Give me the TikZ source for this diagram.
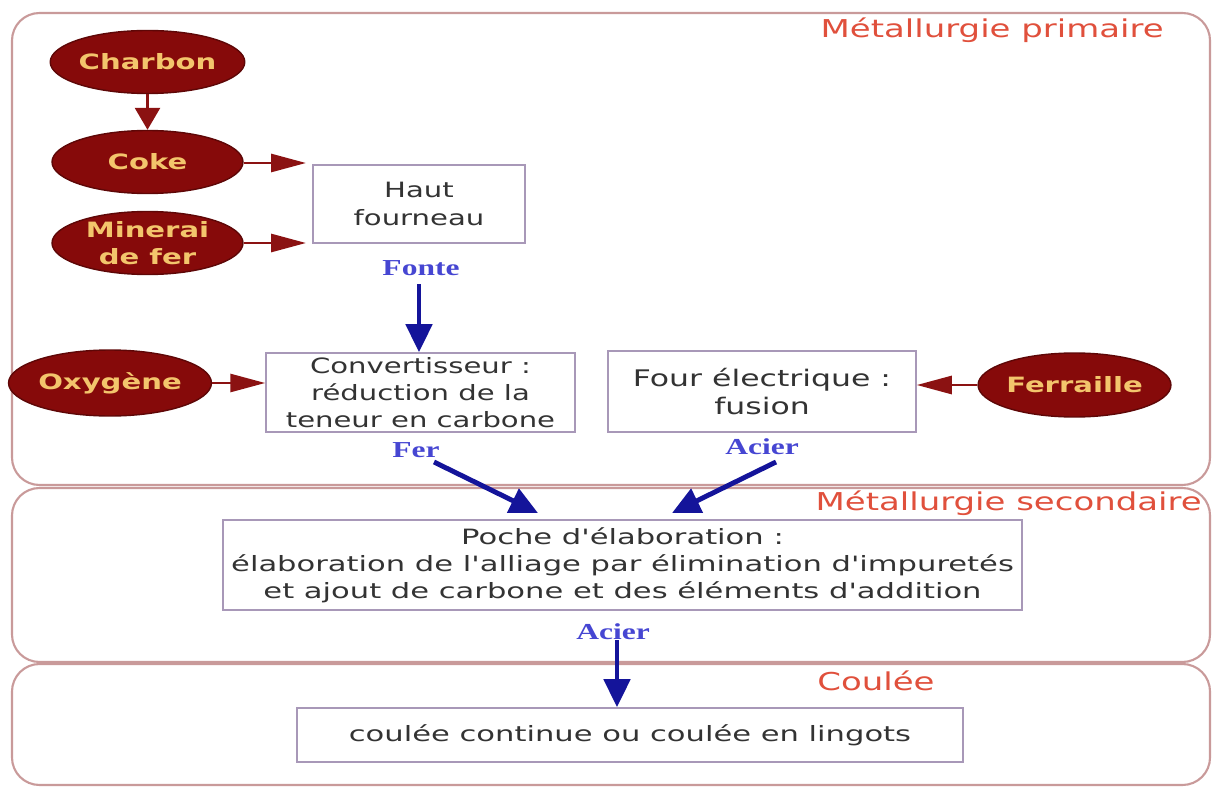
\documentclass[tikz,border=0pt]{standalone}
\usepackage{fontspec}
\setmainfont{DejaVu Sans}
\newfontfamily\boxfont[FakeStretch=1.38]{DejaVu Sans}
\newfontfamily\lowfont[FakeStretch=1.45]{DejaVu Sans}
\newfontfamily\elfont[FakeStretch=1.38]{DejaVu Sans Bold}
\newfontfamily\lblfont[FakeStretch=1.38]{Liberation Serif Bold}
\newfontfamily\ttlfont[FakeStretch=1.38]{DejaVu Sans}
\usetikzlibrary{shapes.geometric,arrows.meta}
\definecolor{panelc}{HTML}{C99A9A}
\definecolor{ellfill}{HTML}{860A0A}
\definecolor{elltext}{HTML}{F3C56C}
\definecolor{redarr}{HTML}{8B1212}
\definecolor{bluearr}{HTML}{14149A}
\definecolor{lblblue}{HTML}{4646D2}
\definecolor{ttlred}{HTML}{E0503C}
\definecolor{boxc}{HTML}{A898B8}
\begin{document}
\begin{tikzpicture}[x=0.02cm,y=-0.02cm,
  panel/.style={draw=panelc,line width=1.2pt,rounded corners=0.55cm},
  ttl/.style={text=ttlred,font=\ttlfont\fontsize{14}{16}\selectfont,inner sep=0},
  ell/.style={ellipse,draw=ellfill!70!black,line width=0.8pt,fill=ellfill,text=elltext,
    font=\elfont\fontsize{12}{15.5}\selectfont,align=center,inner sep=0,
    minimum width=3.82cm,minimum height=1.26cm},
  bx/.style={draw=boxc,line width=0.9pt,fill=white,align=center,inner sep=0,
    font=\boxfont\fontsize{12}{15.5}\selectfont,text=black!80},
  lbl/.style={text=lblblue,font=\lblfont\fontsize{13}{15}\selectfont,inner sep=0},
  rarrh/.style={draw=redarr,line width=1.6pt,-{Triangle[length=0.7cm,width=0.36cm]}},
  rarrv/.style={draw=redarr,line width=1.6pt,-{Triangle[length=0.44cm,width=0.5cm]}},
  barr/.style={draw=bluearr,line width=2.8pt,-{Triangle[length=0.56cm,width=0.52cm]}}]
\useasboundingbox (0,0) rectangle (1216,787);
% panels
\draw[panel] (12,13) rectangle (1210,485);
\draw[panel] (12,488) rectangle (1210,662);
\draw[panel] (12,664) rectangle (1210,785);
\node[ttl,anchor=east] (t1) at (1164,30) {Métallurgie primaire};
\node[ttl,anchor=east] (t2) at (1202,503) {Métallurgie secondaire};
\node[ttl] (t3) at (876,681) {Coulée};
% ellipses
\node[ell] (charbon) at (147.5,62) {Charbon};
\node[ell] (coke) at (147.5,162) {Coke};
\node[ell] (minerai) at (147.5,243) {Minerai\\de fer};
\node[ell,minimum width=3.7cm,minimum height=1.32cm] (oxy) at (110,383) {Oxygène};
\node[ell,minimum width=3.82cm,minimum height=1.28cm] (ferr) at (1074.5,385) {Ferraille};
% boxes
\node[bx,minimum width=4.24cm,minimum height=1.56cm] (hf) at (419,204) {Haut\\fourneau};
\node[bx,minimum width=6.18cm,minimum height=1.58cm] (conv) at (420.5,392.5) {Convertisseur :\\réduction de la\\teneur en carbone};
\node[bx,minimum width=6.16cm,minimum height=1.62cm,font=\boxfont\fontsize{13}{15.5}\selectfont] (four) at (762,391.5) {Four électrique :\\fusion};
\node[bx,minimum width=15.98cm,minimum height=1.8cm,font=\lowfont\fontsize{12}{15.3}\selectfont] (poche) at (622.5,565) {Poche d'élaboration :\\élaboration de l'alliage par élimination d'impuretés\\et ajout de carbone et des éléments d'addition};
\node[bx,minimum width=13.32cm,minimum height=1.08cm,font=\lowfont\fontsize{12}{15.3}\selectfont] (coul) at (630,735) {coulée continue ou coulée en lingots};
% labels
\node[lbl] (fonte) at (421,268) {Fonte};
\node[lbl] (fer) at (416,450) {Fer};
\node[lbl] (acier1) at (762,447) {Acier};
\node[lbl] (acier2) at (613,632) {Acier};
% red arrows
\draw[rarrv] (charbon.south) -- (coke.north);
\coordinate (hfin1) at (306,163);
\draw[rarrh] (coke.east |- hfin1) -- (hfin1);
\coordinate (hfin2) at (306,243);
\draw[rarrh] (minerai.east) -- (hfin2);
\draw[rarrh] (oxy.east) -- (conv.west |- oxy.east);
\draw[rarrh] (ferr.west) -- (four.east |- ferr.west);
% blue arrows
\coordinate (fonteb) at (419,284);
\draw[barr] (fonteb) -- (conv.north -| fonteb);
\coordinate (ferb) at (434,462);
\coordinate (pin1) at (538,513);
\draw[barr] (ferb) -- (pin1);
\coordinate (acb) at (776,462);
\coordinate (pin2) at (672,513);
\draw[barr] (acb) -- (pin2);
\coordinate (acb2) at (617,640);
\draw[barr] (acb2) -- (coul.north -| acb2);
\end{tikzpicture}
\end{document}
